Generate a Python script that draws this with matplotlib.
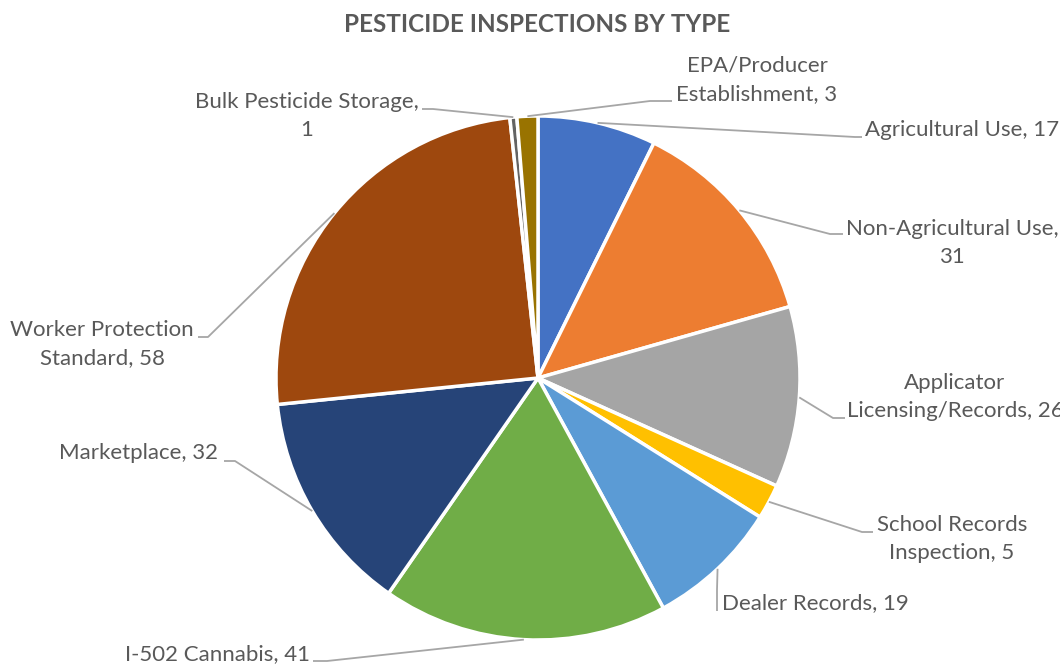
import matplotlib
matplotlib.use("Agg")
import matplotlib.pyplot as plt
import numpy as np

# data
categories = ["Agricultural Use", "Non-Agricultural Use", "Applicator Licensing/Records",
              "School Records Inspection", "Dealer Records", "I-502 Cannabis", "Marketplace",
              "Worker Protection Standard", "Bulk Pesticide Storage", "EPA/Producer Establishment"]
counts = [17, 31, 26, 5, 19, 41, 32, 58, 1, 3]
label_texts = ["Agricultural Use, 17", "Non-Agricultural Use,\n31", "Applicator\nLicensing/Records, 26",
               "School Records\nInspection, 5", "Dealer Records, 19", "I-502 Cannabis, 41",
               "Marketplace, 32", "Worker Protection\nStandard, 58", "Bulk Pesticide Storage,\n1",
               "EPA/Producer\nEstablishment, 3"]
colors = ["#4472C4", "#ED7D31", "#A5A5A5", "#FFC000", "#5B9BD5", "#70AD47",
          "#264478", "#9E480E", "#636363", "#997300"]

W, H = 1060, 666
cx, cy, r = 538, 378, 262

# label layout in pixel coords: text position, alignment, elbow, stub end
label_pos = [(865, 130, "left"), (952, 243, "center"), (955, 397, "center"),
             (952, 539, "center"), (722, 603, "left"), (310, 654, "right"),
             (218, 453, "right"), (102, 344, "center"), (307, 116, "center"),
             (757, 80, "center")]
elbows = [(855, 137), (830, 234), (833, 418), (862, 532), (717, 590),
          (327, 661), (235, 461), (208, 337), (433, 109), (650, 101)]
stubs = [(862, 137), (843, 234), (845, 418), (873, 532), (717, 611),
         (313, 661), (224, 461), (198, 337), (422, 109), (672, 101)]

plt.rcParams['font.family'] = ['Lato', 'DejaVu Sans']
fig = plt.figure(figsize=(W / 100, H / 100), dpi=100)
ax = fig.add_axes([0, 0, 1, 1])

wedges, _ = ax.pie(counts, colors=colors, startangle=90, counterclock=False,
                   center=(cx, H - cy), radius=r,
                   wedgeprops=dict(edgecolor="white", linewidth=2.5))
ax.set_aspect('equal')
ax.set_xlim(0, W)
ax.set_ylim(0, H)
ax.axis('off')

text_color = "#595959"
line_color = "#A6A6A6"

# leader lines start at the middle of each wedge's outer edge
for w, txt, (tx, ty, ha), el, st in zip(wedges, label_texts, label_pos, elbows, stubs):
    mid = np.deg2rad((w.theta1 + w.theta2) / 2)
    ax_x = cx + r * np.cos(mid)
    ax_y = (H - cy) + r * np.sin(mid)
    ax.plot([ax_x, el[0], st[0]], [ax_y, H - el[1], H - st[1]], color=line_color, lw=1.3,
            solid_capstyle='butt')
    ax.text(tx, H - ty, txt, ha=ha, va='center', multialignment='center',
            fontsize=16, color=text_color, linespacing=1.55)

ax.text(537, H - 24, "PESTICIDE INSPECTIONS BY TYPE", ha='center', va='center',
        fontsize=17.5, fontweight='bold', color=text_color)

fig.savefig("out.png", dpi=100)
